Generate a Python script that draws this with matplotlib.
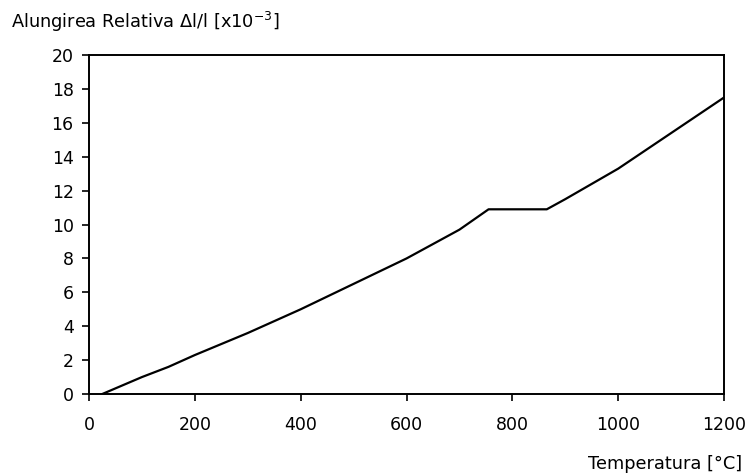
import matplotlib
matplotlib.use("Agg")
import matplotlib.pyplot as plt

plt.rcParams['font.family'] = ['DejaVu Sans']

# ---------------- DATA ----------------
temperatura = [25, 100, 150, 200, 300, 400, 500, 600, 700, 755, 865, 900, 1000, 1100, 1200]
alungire = [0.0, 1.0, 1.6, 2.3, 3.6, 5.0, 6.5, 8.0, 9.7, 10.9, 10.9, 11.5, 13.3, 15.4, 17.5]

x_ticks = [0, 200, 400, 600, 800, 1000, 1200]
y_ticks = [0, 2, 4, 6, 8, 10, 12, 14, 16, 18, 20]

# ---------------- PLOT ----------------
fig = plt.figure(figsize=(7.48, 4.75), dpi=100)
ax = fig.add_axes([0.119, 0.1705, 0.849, 0.7135])

ax.plot(temperatura, alungire, color="black", linewidth=1.6)

ax.set_xlim(0, 1200)
ax.set_ylim(0, 20)
ax.set_xticks(x_ticks)
ax.set_yticks(y_ticks)
ax.tick_params(direction="out", length=5, width=1.2, labelsize=12.5, pad=11)
ax.tick_params(axis="y", pad=6)
for s in ax.spines.values():
    s.set_linewidth(1.4)

fig.text(0.015, 0.953, "Alungirea Relativa \u0394l/l [x10$^{-3}$]", fontsize=12.8, va="center")
fig.text(0.992, 0.023, "Temperatura [\u00b0C]", fontsize=12.8, ha="right", va="center")

fig.savefig("out.png", dpi=100)
